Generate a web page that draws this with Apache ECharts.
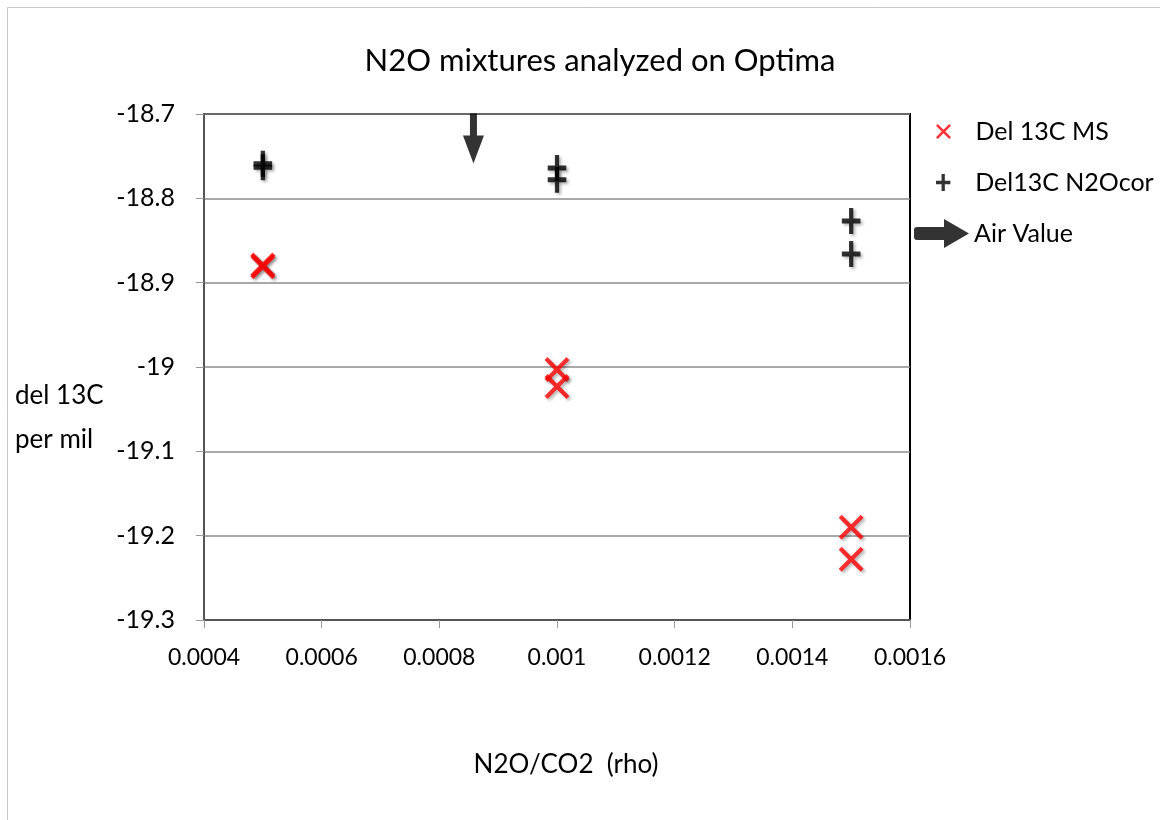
<!DOCTYPE html>
<html>
<head>
<meta charset="utf-8">
<script src="https://cdn.jsdelivr.net/npm/echarts@6/dist/echarts.min.js"></script>
<style>
  html, body { margin: 0; padding: 0; background: #fff; }
  #chart { width: 1160px; height: 820px; }
</style>
</head>
<body>
<div id="chart"></div>
<script>
// values
var msX = [0.0005, 0.0005, 0.001, 0.001, 0.0015, 0.0015];
var msY = [-18.879, -18.881, -19.003, -19.023, -19.19, -19.228];
var corX = [0.0005, 0.0005, 0.001, 0.001, 0.0015, 0.0015];
var corY = [-18.759, -18.763, -18.764, -18.778, -18.827, -18.866];
var airX = [0.000858];
var airY = [-18.729];
var xTicks = [0.0004, 0.0006, 0.0008, 0.001, 0.0012, 0.0014, 0.0016];
var yTicks = [-19.3, -19.2, -19.1, -19, -18.9, -18.8, -18.7];

var FONT = 'Lato';
var X_PATH = 'path://M1.2,0 L5,3.8 L8.8,0 L10,1.2 L6.2,5 L10,8.8 L8.8,10 L5,6.2 L1.2,10 L0,8.8 L3.8,5 L0,1.2 Z';
var PLUS_PATH = 'path://M8.5,0 H13.5 V10.5 H22 V15.5 H13.5 V26 H8.5 V15.5 H0 V10.5 H8.5 Z';
var DOWN_ARROW = 'path://M7,0 H14 V22 H21 L10.5,50 L0,22 H7 Z';
var RIGHT_ARROW = 'path://M0,11 Q0,8 3,8 H30 V0 L55,14.5 L30,29 V21 H3 Q0,21 0,18 Z';

function pairs(xs, ys) {
  return xs.map(function(x, i) { return [x, ys[i]]; });
}

var chart = echarts.init(document.getElementById('chart'));

var shadow = {
  shadowBlur: 3,
  shadowColor: 'rgba(0,0,0,0.35)',
  shadowOffsetX: 2,
  shadowOffsetY: 2
};
var legendText = { fontFamily: FONT, fontSize: 25, color: '#000' };

chart.setOption({
  backgroundColor: '#fff',
  animation: false,
  title: {
    text: 'N2O mixtures analyzed on Optima',
    left: 595,
    textAlign: 'center',
    top: 40,
    textStyle: { fontFamily: FONT, fontSize: 31, fontWeight: 'normal', color: '#000' }
  },
  legend: [
    {
      data: [{ name: 'Del 13C MS', icon: X_PATH }],
      left: 931, top: 114,
      itemWidth: 54, itemHeight: 15,
      textStyle: legendText,
      selectedMode: false
    },
    {
      data: [{ name: 'Del13C N2Ocor', icon: PLUS_PATH }],
      left: 931, top: 165,
      itemWidth: 54, itemHeight: 17,
      textStyle: legendText,
      selectedMode: false
    },
    {
      data: [{ name: 'Air Value', icon: RIGHT_ARROW }],
      left: 909, top: 214,
      itemWidth: 55, itemHeight: 29,
      textStyle: legendText,
      selectedMode: false
    }
  ],
  grid: {
    left: 204, right: 250, top: 114, bottom: 200,
    show: true,
    borderColor: '#000',
    borderWidth: 2
  },
  xAxis: {
    type: 'value',
    min: xTicks[0],
    max: xTicks[xTicks.length - 1],
    interval: 0.0002,
    name: 'N2O/CO2  (rho)',
    nameLocation: 'middle',
    nameGap: 132,
    nameTextStyle: { fontFamily: FONT, fontSize: 26, color: '#000', padding: [0, 0, 0, 18] },
    axisLine: { lineStyle: { color: '#555', width: 2 } },
    axisTick: { show: true, length: 8, lineStyle: { color: '#999' } },
    axisLabel: {
      margin: 26,
      fontFamily: FONT, fontSize: 23, color: '#000',
      formatter: function(v) { return String(parseFloat(v.toPrecision(6))); }
    },
    splitLine: { show: false }
  },
  yAxis: {
    type: 'value',
    min: yTicks[0],
    max: yTicks[yTicks.length - 1],
    interval: 0.1,
    axisLine: { show: true, lineStyle: { color: '#555', width: 2 } },
    axisTick: { show: true, length: 8, lineStyle: { color: '#999' } },
    axisLabel: {
      margin: 29,
      fontFamily: FONT, fontSize: 25, color: '#000',
      formatter: function(v) { return String(parseFloat(v.toFixed(4))); }
    },
    splitLine: { show: true, lineStyle: { color: '#8c8c8c', width: 1.5 } }
  },
  graphic: [
    {
      type: 'rect',
      shape: { x: 7.5, y: 7.5, width: 1170, height: 830 },
      style: { fill: 'none', stroke: '#c8c8c8', lineWidth: 1 },
      z: -1
    },
    {
      type: 'text',
      left: 15, top: 374,
      style: {
        text: 'del 13C\nper mil',
        fontFamily: FONT, fontSize: 26, lineHeight: 44, fill: '#000'
      }
    }
  ],
  series: [
    {
      name: 'Del 13C MS',
      type: 'scatter',
      symbol: X_PATH,
      symbolSize: 25,
      symbolKeepAspect: true,
      itemStyle: Object.assign({ color: '#ff0000' }, shadow),
      data: pairs(msX, msY),
      z: 3
    },
    {
      name: 'Del13C N2Ocor',
      type: 'scatter',
      symbol: PLUS_PATH,
      symbolSize: [22, 26],
      symbolKeepAspect: true,
      itemStyle: Object.assign({ color: '#000' }, shadow),
      data: pairs(corX, corY),
      z: 3
    },
    {
      name: 'Air Value',
      type: 'scatter',
      symbol: DOWN_ARROW,
      symbolSize: [21, 50],
      itemStyle: { color: '#000' },
      data: pairs(airX, airY),
      z: 3
    }
  ]
});
</script>
</body>
</html>
